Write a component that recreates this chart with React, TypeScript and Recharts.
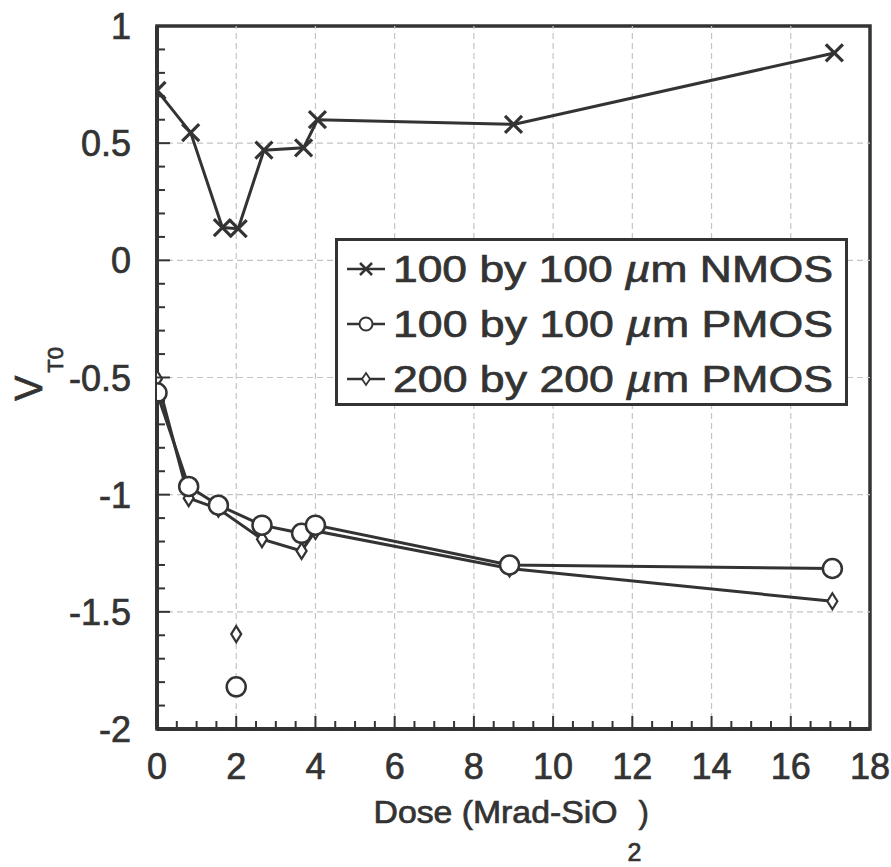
import React from 'react';
import { ScatterChart, Scatter, XAxis, YAxis, ReferenceLine, ReferenceArea, Legend } from 'recharts';

const FONT = '"Liberation Sans", Arial, Helvetica, sans-serif';
const INK = '#333333';
const BOLDEN = { stroke: INK, strokeWidth: 0.7, paintOrder: 'stroke' } as any;

// Dose (Mrad-SiO2) and threshold voltage V_T0 (V)
const nmosDose = [0, 0.85, 1.65, 2.05, 2.7, 3.7, 4.05, 9.0, 17.1];
const nmosVt = [0.725, 0.545, 0.14, 0.135, 0.47, 0.48, 0.6, 0.58, 0.885];

const pmos100Dose = [0, 0.8, 1.55, 2.65, 3.65, 4.0, 8.9, 17.05];
const pmos100Vt = [-0.565, -0.965, -1.045, -1.13, -1.165, -1.13, -1.3, -1.315];
const pmos100IsoDose = [2.0];
const pmos100IsoVt = [-1.82];

const pmos200Dose = [0, 0.8, 1.55, 2.65, 3.65, 4.0, 8.9, 17.05];
const pmos200Vt = [-0.505, -1.015, -1.06, -1.19, -1.24, -1.155, -1.315, -1.455];
const pmos200IsoDose = [2.0];
const pmos200IsoVt = [-1.595];

const seriesNames = ['100 by 100 µm NMOS', '100 by 100 µm PMOS', '200 by 200 µm PMOS'];

const xDomain = [0, 18];
const yDomain = [-2, 1];
const majorX = [0, 2, 4, 6, 8, 10, 12, 14, 16, 18];
const majorY = [-2, -1.5, -1, -0.5, 0, 0.5, 1];
const gridX = [2, 4, 6, 8, 10, 12, 14, 16];
const gridY = [-1.5, -1, -0.5, 0, 0.5];
const minorX: number[] = [];
for (let i = 0; i <= 36; i++) minorX.push(i / 2);
const minorY: number[] = [];
for (let i = -20; i <= 10; i++) minorY.push(i / 10);

const zip = (xs: number[], ys: number[]) => xs.map((x, i) => ({ x, y: ys[i] }));
const nmosData = zip(nmosDose, nmosVt);
const pmos100Data = zip(pmos100Dose, pmos100Vt);
const pmos100Iso = zip(pmos100IsoDose, pmos100IsoVt);
const pmos200Data = zip(pmos200Dose, pmos200Vt);
const pmos200Iso = zip(pmos200IsoDose, pmos200IsoVt);

const XMark = ({ cx, cy, s = 8.5, w = 3.2 }: any) => (
  <g>
    <line x1={cx - s} y1={cy - s} x2={cx + s} y2={cy + s} stroke={INK} strokeWidth={w} />
    <line x1={cx - s} y1={cy + s} x2={cx + s} y2={cy - s} stroke={INK} strokeWidth={w} />
  </g>
);
const OMark = ({ cx, cy, r = 9.5, w = 2.5 }: any) => (
  <circle cx={cx} cy={cy} r={r} fill="#fff" stroke={INK} strokeWidth={w} />
);
const DMark = ({ cx, cy, hw = 5, hh = 8, w = 2.2 }: any) => (
  <path
    d={`M${cx},${cy - hh} L${cx + hw},${cy} L${cx},${cy + hh} L${cx - hw},${cy} Z`}
    fill="#fff"
    stroke={INK}
    strokeWidth={w}
  />
);

const XTick = (props: any) => {
  const { x, y, payload } = props;
  const v = payload.value;
  const major = majorX.includes(v);
  return (
    <g>
      <line x1={x} x2={x} y1={y} y2={y - (major ? 13 : 8)} stroke={INK} strokeWidth={2} />
      {major && (
        <text x={x} y={y + 50} textAnchor="middle" fontSize={36} fill={INK} fontFamily={FONT} {...BOLDEN}>
          {v}
        </text>
      )}
    </g>
  );
};

const YTick = (props: any) => {
  const { x, y, payload } = props;
  const v = payload.value;
  const major = majorY.includes(v);
  return (
    <g>
      <line x1={x} x2={x + (major ? 13 : 8)} y1={y} y2={y} stroke={INK} strokeWidth={2} />
      {major && (
        <text x={x - 26} y={y + 13} textAnchor="end" fontSize={36} fill={INK} fontFamily={FONT} {...BOLDEN}>
          {String(v)}
        </text>
      )}
    </g>
  );
};

const XLabel = (props: any) => {
  const vb = props.viewBox || {};
  const cx = vb.x + vb.width / 2;
  const base = vb.y + 94;
  const left = cx - 140;
  return (
    <g fontFamily={FONT} fill={INK} {...BOLDEN}>
      <text x={left} y={base} fontSize={31} textLength={244} lengthAdjust="spacingAndGlyphs">
        Dose (Mrad-SiO
      </text>
      <text x={left + 254} y={base + 38} fontSize={25}>2</text>
      <text x={left + 265} y={base} fontSize={31}>)</text>
    </g>
  );
};

const YLabel = () => (
  <text transform="translate(42,401) rotate(-90)" fontFamily={FONT} fill={INK} fontSize={38} {...BOLDEN}>
    V
    <tspan dx={3} dy={21} fontSize={22}>T0</tspan>
  </text>
);

const LegendBox = () => {
  const markers = [
    (cx: number, cy: number) => <XMark cx={cx} cy={cy} s={6} w={2.5} />,
    (cx: number, cy: number) => <OMark cx={cx} cy={cy} r={6.5} w={2} />,
    (cx: number, cy: number) => <DMark cx={cx} cy={cy} hw={4} hh={6} w={1.8} />,
  ];
  return (
    <svg width={513} height={168} style={{ display: 'block' }}>
      <rect x={1.5} y={1.5} width={510} height={165} fill="#fff" stroke={INK} strokeWidth={3} />
      {seriesNames.map((name, i) => {
        const base = 44 + i * 55;
        const my = base - 13;
        const parts = name.split('µ');
        return (
          <g key={name}>
            <line x1={12} x2={50} y1={my} y2={my} stroke={INK} strokeWidth={2.5} />
            {markers[i](31, my)}
            <text
              x={58}
              y={base}
              fontSize={37}
              fontFamily={FONT}
              fill={INK}
              textLength={440}
              lengthAdjust="spacingAndGlyphs"
              {...BOLDEN}
            >
              {parts[0]}
              <tspan fontStyle="italic">µ</tspan>
              {parts[1]}
            </text>
          </g>
        );
      })}
    </svg>
  );
};

export default function App() {
  return (
    <div style={{ position: 'absolute', left: 0, top: 0, background: '#fff' }}>
      <ScatterChart width={891} height={867} margin={{ top: 26, right: 21, bottom: 0, left: 0 }}>
        <XAxis
          type="number"
          dataKey="x"
          domain={xDomain}
          ticks={minorX}
          interval={0}
          tick={<XTick />}
          tickLine={false}
          tickSize={0}
          tickMargin={0}
          height={138}
          axisLine={{ stroke: INK, strokeWidth: 4 }}
          allowDataOverflow
          label={<XLabel />}
        />
        <YAxis
          type="number"
          dataKey="y"
          domain={yDomain}
          ticks={minorY}
          interval={0}
          tick={<YTick />}
          tickLine={false}
          tickSize={0}
          tickMargin={0}
          width={157}
          axisLine={{ stroke: INK, strokeWidth: 4 }}
          allowDataOverflow
          label={<YLabel />}
        />
        {gridX.map((v) => (
          <ReferenceLine key={'gx' + v} x={v} stroke="#c4c4c4" strokeWidth={1.2} strokeDasharray="6 4" />
        ))}
        {gridY.map((v) => (
          <ReferenceLine key={'gy' + v} y={v} stroke="#c4c4c4" strokeWidth={1.2} strokeDasharray="6 4" />
        ))}
        <ReferenceArea
          x1={xDomain[0]}
          x2={xDomain[1]}
          y1={yDomain[0]}
          y2={yDomain[1]}
          fill="none"
          fillOpacity={0}
          stroke={INK}
          strokeWidth={3.5}
          strokeOpacity={1}
          ifOverflow="visible"
        />
        <Scatter
          name={seriesNames[0]}
          data={nmosData}
          line={{ stroke: INK, strokeWidth: 3 }}
          shape={(p: any) => <XMark cx={p.cx} cy={p.cy} />}
          isAnimationActive={false}
        />
        <Scatter
          name={seriesNames[2]}
          data={pmos200Data}
          line={{ stroke: INK, strokeWidth: 3 }}
          shape={(p: any) => <DMark cx={p.cx} cy={p.cy} />}
          isAnimationActive={false}
        />
        <Scatter
          name={seriesNames[1]}
          data={pmos100Data}
          line={{ stroke: INK, strokeWidth: 3 }}
          shape={(p: any) => <OMark cx={p.cx} cy={p.cy} />}
          isAnimationActive={false}
        />
        <Scatter
          data={pmos100Iso}
          legendType="none"
          shape={(p: any) => <OMark cx={p.cx} cy={p.cy} />}
          isAnimationActive={false}
        />
        <Scatter
          data={pmos200Iso}
          legendType="none"
          shape={(p: any) => <DMark cx={p.cx} cy={p.cy} />}
          isAnimationActive={false}
        />
        <Legend
          layout="horizontal"
          verticalAlign="middle"
          align="center"
          content={() => <LegendBox />}
          wrapperStyle={{ left: 335, top: 238, width: 513, height: 168 }}
        />
      </ScatterChart>
    </div>
  );
}
